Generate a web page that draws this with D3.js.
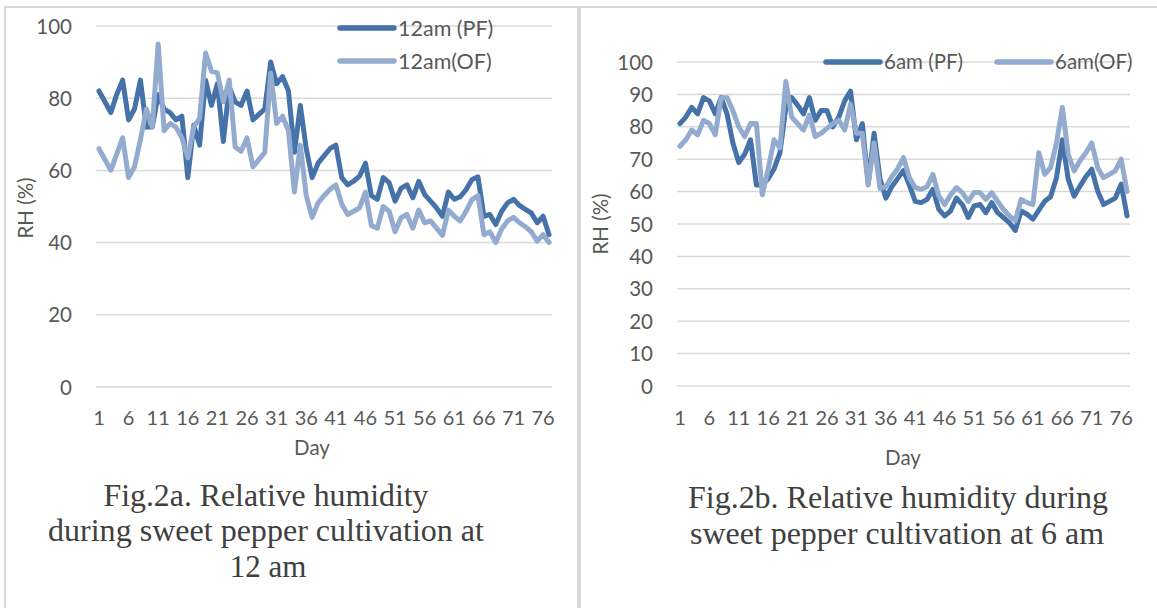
<!DOCTYPE html>
<html><head><meta charset="utf-8">
<script src="https://cdn.jsdelivr.net/npm/d3@7"></script>
<style>html,body{margin:0;padding:0;background:#fff;}svg{display:block;}</style>
</head><body>
<svg id="chart" width="1157" height="608"></svg>
<script>
// ---------- data ----------
const days = d3.range(1, 78);
const xTickLabels = [1, 6, 11, 16, 21, 26, 31, 36, 41, 46, 51, 56, 61, 66, 71, 76];
const yTicksA = [0, 20, 40, 60, 80, 100];
const yTicksB = [0, 10, 20, 30, 40, 50, 60, 70, 80, 90, 100];
const seriesNamesA = ["12am (PF)", "12am(OF)"];
const seriesNamesB = ["6am (PF)", "6am(OF)"];

const pf12 = [82,79,76,81,85,74,77,85,72,72,81,77,76,74,75,58,72.5,67,85,78,84,68,83,79,78,82,74,75.5,77,90,84,86,82,65,78,66,58,62,64,66,67,58,56,57,58.4,62,53,52,58,56.6,51.5,55,56,52.4,57,53.3,51.5,49.6,47.3,54,52,52.7,54.7,57.5,58.2,47.3,47.8,45,48.7,51,52,50.3,49.2,48.2,45.5,47.3,42.2];
const of12 = [66,63,60,64.5,69,58,61,68.5,77,72,95,71,73,72,69,63.5,72,74.5,92.5,87.5,87,79,85,66.5,65.3,69,61,63,65,87,73,75,71,54,67,53,47,51,53,54.7,56,50.6,47.8,48.7,49.6,54,44.7,44,50,48.7,43,46.9,47.8,44,49,45.5,46,44,42,49,47.3,46,48.7,52,53,42.2,43,40,43.8,46,47,45.5,44.4,43,40.4,42.2,40];
const pf6 = [81,83,86,84,89,88,84,89,84,75,69,71.5,76,62,62,64,67,72,86,89,86.7,84,89,82,85,85,80,83,88,91,76,81,62.5,78,64,58,61.5,64,66.5,62,57,56.6,57.6,60.7,54.5,52.5,54,58,56,52,55.6,56,53.5,56.6,53.5,52,50.4,48,54,53,51.5,54.3,57,58.4,64.3,76,63.8,58.6,61.7,64.6,66.9,60.2,56,57,58,62.3,52.5];
const of6 = [74,76,79,77.5,82,81,77.5,89,89,85,80,77,81,81,59,67,76,73.5,94,83,81,79,83.6,77,78,79.5,81,82,79,87,78,78,62,75,61,61.5,64.6,67,70.5,64.3,61.2,60.7,61.5,65.3,58.7,56,59,61.2,59.7,57,59.7,59.7,57.6,59.7,57,54.5,52.5,51,57.6,56.6,56,72,65.3,67.4,75,86,71.5,66.4,69.5,72,75,67.4,64.3,65.3,66.4,70,60];

const captionA = ["Fig.2a. Relative humidity", "during sweet pepper cultivation at", "12 am"];
const captionB = ["Fig.2b. Relative humidity during", "sweet pepper cultivation at 6 am"];

// ---------- style ----------
const DARK = "#4572a9", LIGHT = "#94abd0", GRID = "#d9d9d9", TXT = "#595959";
const FONT = "Lato, 'Open Sans', sans-serif";
const svg = d3.select("#chart");

// panel borders
svg.append("rect").attr("x", 5).attr("y", 7).attr("width", 573).attr("height", 620)
  .attr("fill", "none").attr("stroke", GRID).attr("stroke-width", 2);
svg.append("rect").attr("x", 580).attr("y", 7).attr("width", 590).attr("height", 620)
  .attr("fill", "none").attr("stroke", GRID).attr("stroke-width", 2);

function drawChart(cfg) {
  const g = svg.append("g");
  const x = d3.scaleBand().domain(days).range([cfg.x0, cfg.x1]).padding(0);
  const y = d3.scaleLinear().domain([0, 100]).range([cfg.yBottom, cfg.yTop]);
  const cx = d => x(d) + x.bandwidth() / 2;

  // gridlines
  g.append("g").selectAll("line").data(cfg.yTicks).join("line")
    .attr("x1", cfg.x0).attr("x2", cfg.x1)
    .attr("y1", d => y(d)).attr("y2", d => y(d))
    .attr("stroke", GRID).attr("stroke-width", 1.5);

  // y axis labels
  const yAxis = d3.axisLeft(y).tickValues(cfg.yTicks).tickSize(0).tickPadding(0);
  const ya = g.append("g").attr("transform", `translate(${cfg.yLabelX},0)`).call(yAxis);
  ya.select(".domain").remove();
  ya.selectAll("text").attr("font-family", FONT).attr("font-size", 20.5).attr("fill", TXT).attr("dy", "0.35em");

  // x axis labels
  const xAxis = d3.axisBottom(x).tickValues(xTickLabels).tickSize(0).tickPadding(0);
  const xa = g.append("g").attr("transform", `translate(0,${cfg.xLabelY})`).call(xAxis);
  xa.select(".domain").remove();
  xa.selectAll("text").attr("font-family", FONT).attr("font-size", 20).attr("fill", TXT).attr("dy", "0.35em");

  // axis titles
  g.append("text").attr("x", cfg.dayX).attr("y", cfg.dayY).attr("dy", "0.35em")
    .attr("text-anchor", "middle").attr("font-family", FONT).attr("font-size", 20.5).attr("fill", TXT).text("Day");
  g.append("text").attr("transform", `translate(${cfg.rhX},${cfg.rhY}) rotate(-90)`).attr("dy", "0.35em")
    .attr("text-anchor", "middle").attr("font-family", FONT).attr("font-size", 20.5).attr("fill", TXT).text("RH (%)");

  // lines
  const line = d3.line().x((d, i) => cx(days[i])).y(d => y(d));
  [[cfg.s1, DARK], [cfg.s2, LIGHT]].forEach(([s, c]) => {
    g.append("path").datum(s).attr("d", line).attr("fill", "none").attr("stroke", c)
      .attr("stroke-width", 5).attr("stroke-linejoin", "round").attr("stroke-linecap", "round");
  });

  // legend
  cfg.legend.forEach((L, i) => {
    g.append("line").attr("x1", L.x).attr("x2", L.x + 54).attr("y1", L.y).attr("y2", L.y)
      .attr("stroke", i === 0 ? DARK : LIGHT).attr("stroke-width", 5.5).attr("stroke-linecap", "round");
    g.append("text").attr("x", L.x + 58).attr("y", L.y).attr("dy", "0.35em")
      .attr("font-family", FONT).attr("font-size", cfg.legendSize).attr("fill", TXT).text(cfg.names[i]);
  });

  // caption
  cfg.caption.forEach((t, i) => {
    const c = cfg.capLines[i];
    const txt = g.append("text").attr("x", c.cx).attr("y", c.y).attr("text-anchor", "middle")
      .attr("font-family", "'Liberation Serif', 'Times New Roman', serif").attr("font-size", 31)
      .attr("fill", "#404040").text(t);
    if (c.w) txt.attr("textLength", c.w).attr("lengthAdjust", "spacingAndGlyphs");
  });
}

drawChart({
  x0: 96, x1: 552, yTop: 26, yBottom: 387, yTicks: yTicksA, yLabelX: 72, xLabelY: 418,
  dayX: 312, dayY: 448, rhX: 26, rhY: 208, s1: pf12, s2: of12, names: seriesNamesA, legendSize: 21.5,
  legend: [{x: 340, y: 28}, {x: 340, y: 61}],
  caption: captionA,
  capLines: [{cx: 266, y: 506, w: 325}, {cx: 266, y: 541, w: 436}, {cx: 268, y: 577}]
});
drawChart({
  x0: 677, x1: 1130, yTop: 62, yBottom: 386, yTicks: yTicksB, yLabelX: 653, xLabelY: 418,
  dayX: 903, dayY: 458, rhX: 601, rhY: 224, s1: pf6, s2: of6, names: seriesNamesB, legendSize: 20.5,
  legend: [{x: 826, y: 62}, {x: 997, y: 62}],
  caption: captionB,
  capLines: [{cx: 898, y: 508, w: 420}, {cx: 897, y: 544, w: 414}]
});
</script>
</body></html>
